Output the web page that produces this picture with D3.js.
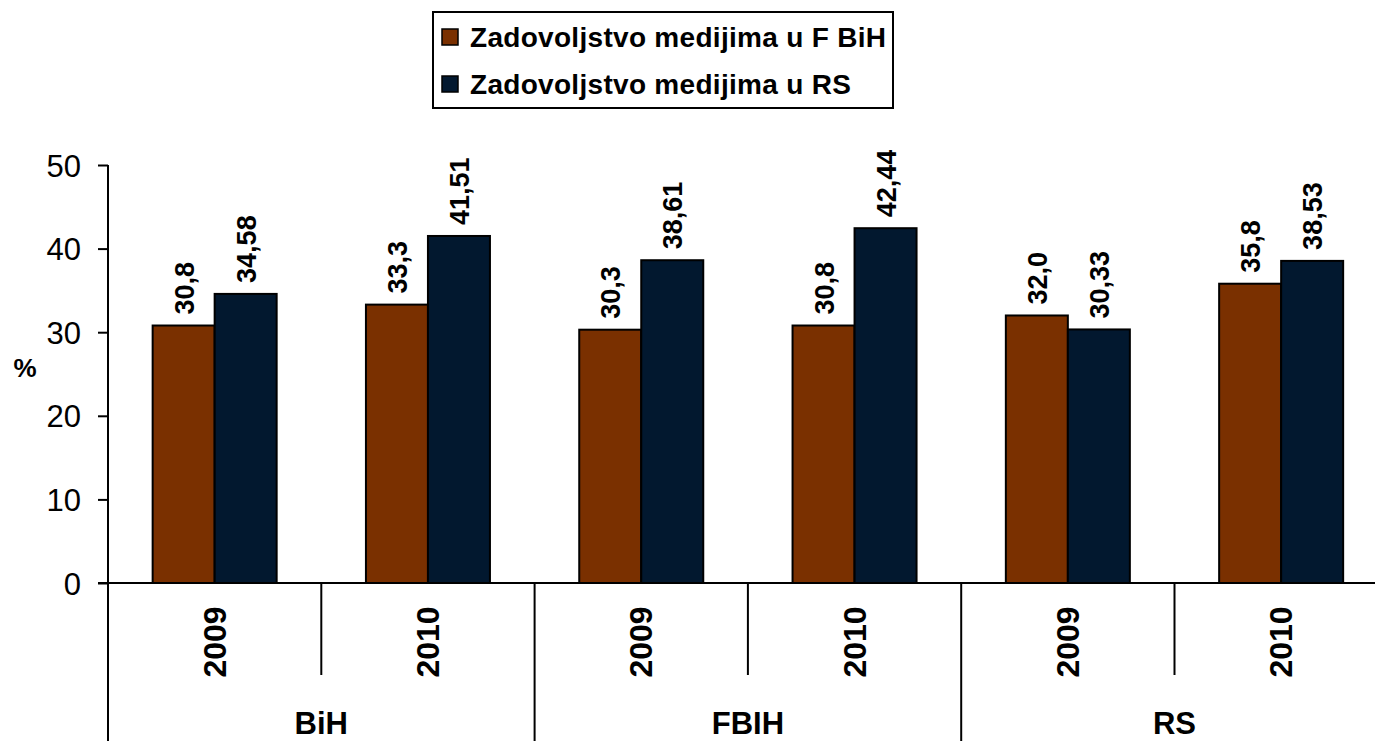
<!DOCTYPE html>
<html>
<head>
<meta charset="utf-8">
<script src="https://cdn.jsdelivr.net/npm/d3@7"></script>
<style>
    body { margin: 0; background: #fff; }
    svg { display: block; font-family: "Liberation Sans", Arial, sans-serif; }
</style>
</head>
<body>
<div id="chart"></div>
<script>
// chart data
const groups = ['BiH', 'FBIH', 'RS'];
const years = ['2009', '2010'];
const seriesNames = ['Zadovoljstvo medijima u F BiH', 'Zadovoljstvo medijima u RS'];
const fbihValues = [30.8, 33.3, 30.3, 30.8, 32.0, 35.8];
const rsValues = [34.58, 41.51, 38.61, 42.44, 30.33, 38.53];
const yTicks = [0, 10, 20, 30, 40, 50];

const colors = ['#7a3000', '#02182f'];

const width = 1375, height = 741;
const plotLeft = 108, plotBottom = 583, plotTop = 165;
const slotWidth = 213.3;

// comma decimal like the original
const loc = d3.formatLocale({decimal: ',', thousands: '.', grouping: [3], currency: ['', '']});
const fmt = [loc.format('.1f'), loc.format('.2f')];

// one slot per group/year pair
let slots = [];
groups.forEach(function(g) {
    years.forEach(function(yr) { slots.push({group: g, year: yr, key: g + '-' + yr}); });
});
slots.forEach(function(s, i) { s.values = [fbihValues[i], rsValues[i]]; });

const svg = d3.select('#chart').append('svg')
    .attr('width', width)
    .attr('height', height);

svg.append('rect').attr('width', width).attr('height', height).attr('fill', '#fff');

const x0 = d3.scaleBand()
    .domain(slots.map(d => d.key))
    .range([plotLeft, plotLeft + slotWidth * slots.length]);

const x1 = d3.scaleBand()
    .domain([0, 1])
    .range([0, x0.bandwidth()])
    .paddingInner(0)
    .paddingOuter(0.72);

const y = d3.scaleLinear()
    .domain([0, 50])
    .range([plotBottom, plotTop]);

// y axis
const yAxis = svg.append('g')
    .attr('transform', `translate(${plotLeft},0)`)
    .call(d3.axisLeft(y).tickValues(yTicks).tickSize(10).tickPadding(17).tickFormat(d3.format('d')));
yAxis.select('.domain').attr('stroke', '#000').attr('stroke-width', 2).attr('d', `M0,${plotTop}V${plotBottom}`);
yAxis.selectAll('.tick line').attr('stroke', '#000').attr('stroke-width', 2);
yAxis.selectAll('.tick text')
    .attr('font-size', 31)
    .attr('fill', '#000')
    .attr('dy', '0.36em')
    .style('font-family', '"Liberation Sans", Arial, sans-serif');

svg.append('text')
    .attr('x', 25)
    .attr('y', 368)
    .attr('text-anchor', 'middle')
    .attr('dominant-baseline', 'central')
    .attr('font-size', 26)
    .attr('font-weight', 'bold')
    .text('%');

// bars
const slotG = svg.selectAll('.slot')
    .data(slots)
    .join('g')
    .attr('class', 'slot')
    .attr('transform', d => `translate(${x0(d.key)},0)`);

slotG.selectAll('rect')
    .data(d => d.values.map((v, i) => ({v: v, i: i})))
    .join('rect')
    .attr('x', d => x1(d.i))
    .attr('y', d => y(d.v))
    .attr('width', x1.bandwidth())
    .attr('height', d => plotBottom - y(d.v))
    .attr('fill', d => colors[d.i])
    .attr('stroke', '#000')
    .attr('stroke-width', 2);

// value labels, rotated
slotG.selectAll('text.val')
    .data(d => d.values.map((v, i) => ({v: v, i: i})))
    .join('text')
    .attr('class', 'val')
    .attr('transform', d => `translate(${x1(d.i) + x1.bandwidth() / 2 + 10},${y(d.v) - 11}) rotate(-90)`)
    .attr('font-size', 27)
    .attr('font-weight', 'bold')
    .text(d => fmt[d.i](d.v));

// x baseline
svg.append('line')
    .attr('x1', plotLeft - 10).attr('x2', width)
    .attr('y1', plotBottom).attr('y2', plotBottom)
    .attr('stroke', '#000').attr('stroke-width', 2);

// dividers: short between years, long between groups
slots.forEach(function(s, i) {
    const xs = x0(s.key);
    const isGroupEdge = i % years.length === 0;
    svg.append('line')
        .attr('x1', xs).attr('x2', xs)
        .attr('y1', plotBottom).attr('y2', isGroupEdge ? height : 675)
        .attr('stroke', '#000').attr('stroke-width', 2);
});

// year labels
svg.selectAll('text.year')
    .data(slots)
    .join('text')
    .attr('class', 'year')
    .attr('transform', d => `translate(${x0(d.key) + x0.bandwidth() / 2 + 11},642) rotate(-90)`)
    .attr('text-anchor', 'middle')
    .attr('font-size', 32)
    .attr('font-weight', 'bold')
    .text(d => d.year);

// group labels
svg.selectAll('text.group')
    .data(groups)
    .join('text')
    .attr('class', 'group')
    .attr('x', (d, i) => plotLeft + slotWidth * years.length * (i + 0.5))
    .attr('y', 734)
    .attr('text-anchor', 'middle')
    .attr('font-size', 31)
    .attr('font-weight', 'bold')
    .text(d => d);

// legend
const legend = svg.append('g');
legend.append('rect')
    .attr('x', 433).attr('y', 12)
    .attr('width', 460).attr('height', 96)
    .attr('fill', '#fff')
    .attr('stroke', '#000').attr('stroke-width', 2);

const item = legend.selectAll('.item')
    .data(seriesNames)
    .join('g')
    .attr('class', 'item')
    .attr('transform', (d, i) => `translate(442,${37 + i * 47})`);

item.append('rect')
    .attr('x', 0).attr('y', -8)
    .attr('width', 16).attr('height', 16)
    .attr('fill', (d, i) => colors[i])
    .attr('stroke', '#000').attr('stroke-width', 1.5);

item.append('text')
    .attr('x', 28)
    .attr('y', 10)
    .attr('font-size', 28)
    .attr('font-weight', 'bold')
    .attr('letter-spacing', 0.3)
    .text(d => d);
</script>
</body>
</html>
